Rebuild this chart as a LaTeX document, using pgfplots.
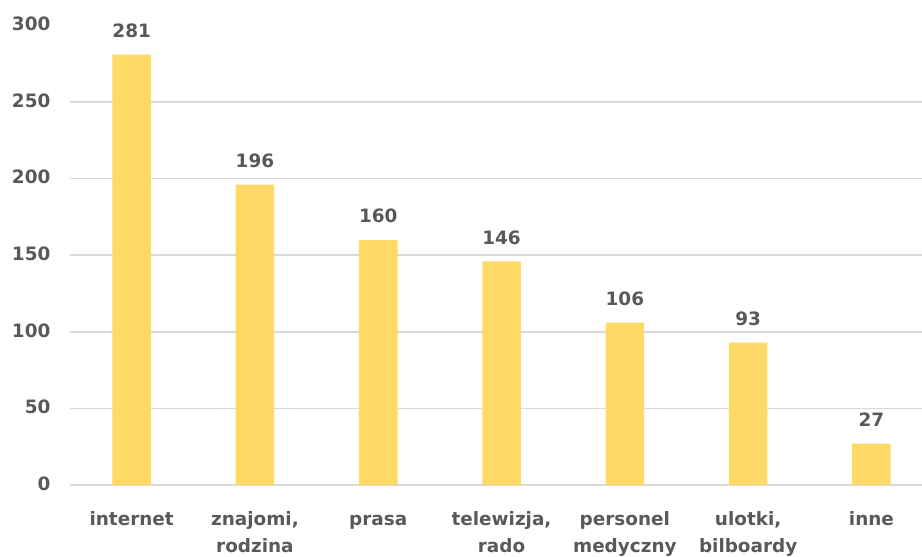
\documentclass[border=0pt]{standalone}
\usepackage{fontspec}
\setmainfont{DejaVu Sans}
\usepackage{pgfplots}
\pgfplotsset{compat=1.18}
\definecolor{barc}{HTML}{FFD966}
\definecolor{txt}{HTML}{595959}
\definecolor{grd}{HTML}{D9D9D9}
\begin{document}
\begin{tikzpicture}
\path[use as bounding box] (0,0) rectangle (691.5pt,417.75pt);
\begin{axis}[
  at={(52.5pt,54pt)}, anchor=south west,
  scale only axis, width=639pt, height=344.7pt,
  xmin=-0.5, xmax=6.41, ymin=0, ymax=300,
  axis line style={draw=none},
  ytick={0,50,...,250},
  extra y ticks={300},
  extra y tick style={grid=none},
  ymajorgrids, grid style={grd, line width=1.1pt},
  major tick length=0pt,
  xtick={0,...,6},
  xticklabels={internet,{znajomi,\\rodzina},prasa,{telewizja,\\rado},{personel\\medyczny},{ulotki,\\bilboardy},inne},
  ticklabel style={font=\fontsize{13.8}{20.25}\selectfont\bfseries, text=txt},
  xticklabel style={anchor=north, align=center, inner sep=0pt, yshift=-16pt},
  typeset ticklabels with strut,
  yticklabel style={anchor=east, inner sep=0pt, xshift=-14.5pt},
  /pgf/number format/assume math mode=true,
  ybar, bar width=28.9pt,
  nodes near coords,
  every node near coord/.append style={font=\fontsize{13.8}{16}\selectfont\bfseries, text=txt, yshift=9pt},
]
\addplot[fill=barc, draw=none] coordinates {(0,281) (1,196) (2,160) (3,146) (4,106) (5,93) (6,27)};
\end{axis}
\end{tikzpicture}
\end{document}
